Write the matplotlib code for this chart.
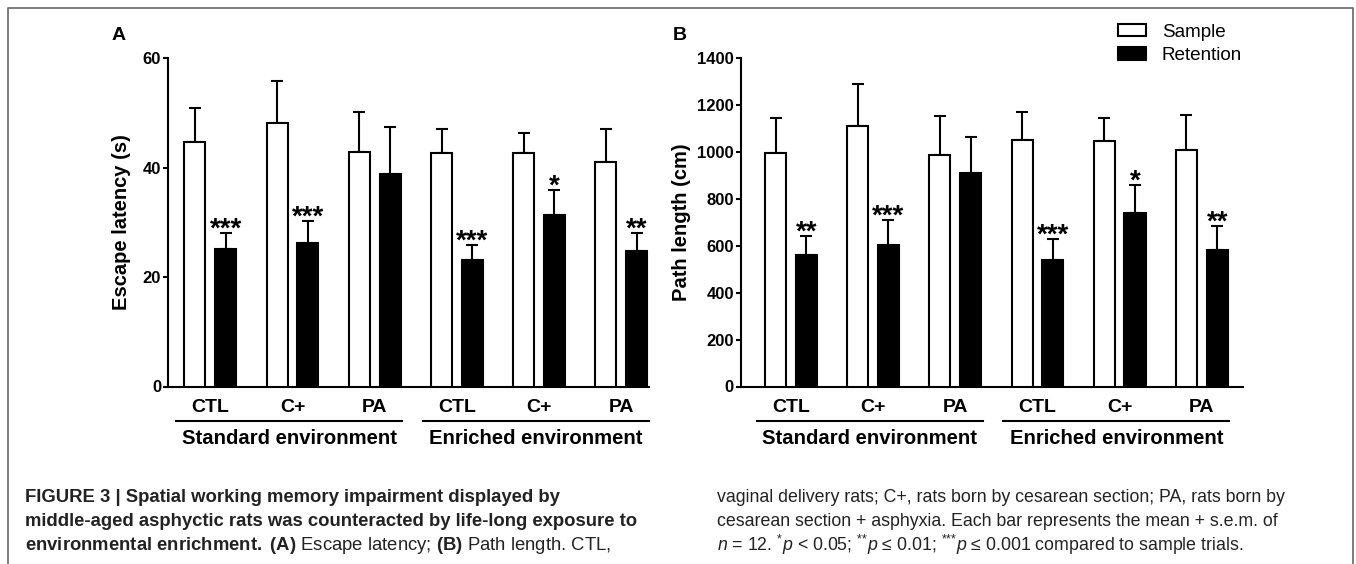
import matplotlib
matplotlib.use('Agg')
import matplotlib.pyplot as plt
from matplotlib.patches import Patch
from matplotlib.lines import Line2D
import numpy as np

plt.rcParams['font.family'] = ['Liberation Sans', 'DejaVu Sans']
plt.rcParams['mathtext.fontset'] = 'custom'
plt.rcParams['mathtext.rm'] = 'Liberation Sans'
plt.rcParams['mathtext.it'] = 'Liberation Sans:italic'
plt.rcParams['mathtext.bf'] = 'Liberation Sans:bold'

groups = ['CTL', 'C+', 'PA', 'CTL', 'C+', 'PA']
environments = ['Standard environment', 'Enriched environment']

# panel A: escape latency (s), mean and s.e.m.
latency_sample = [44.7, 48.2, 42.8, 42.7, 42.6, 41.1]
latency_sample_sem = [6.3, 7.7, 7.3, 4.4, 3.7, 5.9]
latency_retention = [25.2, 26.2, 38.8, 23.1, 31.4, 24.7]
latency_retention_sem = [2.9, 4.1, 8.7, 2.8, 4.5, 3.4]
latency_stars = ['***', '***', '', '***', '*', '**']

# panel B: path length (cm)
path_sample = [998, 1113, 988, 1052, 1049, 1010]
path_sample_sem = [149, 179, 168, 121, 95, 147]
path_retention = [561, 605, 910, 540, 739, 583]
path_retention_sem = [79, 106, 155, 90, 121, 103]
path_stars = ['**', '***', '', '***', '*', '**']

W, H = 1356, 564
fig = plt.figure(figsize=(W / 100, H / 100), dpi=100)


def px_axes(x0, x1, y0, y1):
    return fig.add_axes([x0 / W, 1 - y1 / H, (x1 - x0) / W, (y1 - y0) / H])


def panel(ax, sample, s_sem, ret, r_sem, stars, ymax, yticks, ylabel, xlim, ylab_x):
    x = np.arange(len(groups))
    xs = x
    xr = x + 0.374
    w = 0.256
    ax.bar(xs, sample, w, color='white', edgecolor='black', lw=1.5, zorder=3)
    ax.bar(xr, ret, w, color='black', edgecolor='black', lw=1.5, zorder=3)
    ax.errorbar(xs, sample, yerr=[np.zeros(len(x)), s_sem], fmt='none', ecolor='black',
                elinewidth=1.5, capsize=4, capthick=1.5, zorder=2)
    ax.errorbar(xr, ret, yerr=[np.zeros(len(x)), r_sem], fmt='none', ecolor='black',
                elinewidth=1.5, capsize=4, capthick=1.5, zorder=2)
    for i, s in enumerate(stars):
        if s:
            ax.annotate(s, (xr[i], ret[i] + r_sem[i]), xytext=(0, -2.5), textcoords='offset points',
                        ha='center', va='baseline', fontsize=20, fontweight='bold')
    ax.set_xlim(*xlim)
    ax.set_ylim(0, ymax)
    ax.set_yticks(yticks)
    ax.set_yticklabels([str(t) for t in yticks], fontsize=12, fontweight='bold')
    ax.set_xticks(x + 0.187)
    ax.set_xticklabels(groups, fontsize=14, fontweight='bold')
    ax.tick_params(axis='x', length=0, pad=9)
    ax.tick_params(axis='y', length=3.6, width=1.5, pad=1.5)
    for side in ['top', 'right']:
        ax.spines[side].set_visible(False)
    for side in ['left', 'bottom']:
        ax.spines[side].set_linewidth(1.5)
    ax.text(ylab_x, 0.5, ylabel, transform=ax.transAxes, rotation=90, ha='center', va='center',
            fontsize=14.5, fontweight='bold')
    trans = ax.get_xaxis_transform()
    for k, env in enumerate(environments):
        x0 = xs[3 * k] - w / 2 - 0.1
        x1 = xr[3 * k + 2] + w / 2 + 0.02
        ax.plot([x0, x1], [-0.104, -0.104], transform=trans, color='black', lw=1.5, clip_on=False)
        ax.text((x0 + x1) / 2, -0.157, env, transform=trans, ha='center', va='center',
                fontsize=14.6, fontweight='bold')


ax_a = px_axes(168.3, 649.3, 58.3, 386.5)
ax_b = px_axes(741, 1243, 58.3, 386.5)

panel(ax_a, latency_sample, latency_sample_sem, latency_retention, latency_retention_sem,
      latency_stars, 60, [0, 20, 40, 60], 'Escape latency (s)', (-0.323, 5.527), -0.0973)
panel(ax_b, path_sample, path_sample_sem, path_retention, path_retention_sem,
      path_stars, 1400, list(range(0, 1401, 200)), 'Path length (cm)', (-0.42, 5.688), -0.1195)

fig.text(112 / W, 1 - 35 / H, 'A', fontsize=14, fontweight='bold', ha='left', va='center')
fig.text(673 / W, 1 - 35 / H, 'B', fontsize=14, fontweight='bold', ha='left', va='center')

handles = [Patch(facecolor='white', edgecolor='black', lw=1.5, label='Sample'),
           Patch(facecolor='black', edgecolor='black', lw=1.5, label='Retention')]
fig.legend(handles=handles, loc='upper left', bbox_to_anchor=(1117.7 / W, 1 - 23.6 / H),
           bbox_transform=fig.transFigure, frameon=False, fontsize=13.6, borderpad=0,
           borderaxespad=0, handlelength=1.48, handleheight=0.66, handletextpad=0.85,
           labelspacing=0.36)

# frame around the figure
fig.add_artist(Line2D([8 / W, 8 / W, 1352.7 / W, 1352.7 / W], [0, 1 - 8 / H, 1 - 8 / H, 0],
                      color='#666666', lw=1.2, transform=fig.transFigure))

cap_color = '#222222'
left_lines = [
    ('FIGURE 3 | Spatial working memory impairment displayed by', 'bold'),
    ('middle-aged asphyctic rats was counteracted by life-long exposure to', 'bold'),
    (r'$\mathbf{environmental\ enrichment.\ (A)}$ Escape latency; $\mathbf{(B)}$ Path length. CTL,', 'normal'),
]
right_lines = [
    'vaginal delivery rats; C+, rats born by cesarean section; PA, rats born by',
    'cesarean section + asphyxia. Each bar represents the mean + s.e.m. of',
    r'$\mathit{n}$ = 12. $^{*}\mathit{p}$ < 0.05; $^{{*}{*}}\mathit{p}$ ≤ 0.01; '
    r'$^{{*}{*}{*}}\mathit{p}$ ≤ 0.001 compared to sample trials.',
]
line_y = [497, 521, 545]
for (txt, wt), y in zip(left_lines, line_y):
    fig.text(25 / W, 1 - y / H, txt, fontsize=13.3, fontweight=wt, color=cap_color,
             ha='left', va='center')
for txt, y in zip(right_lines, line_y):
    fig.text(717 / W, 1 - y / H, txt, fontsize=12.8, color=cap_color, ha='left', va='center')

fig.savefig('out.png', dpi=100)
